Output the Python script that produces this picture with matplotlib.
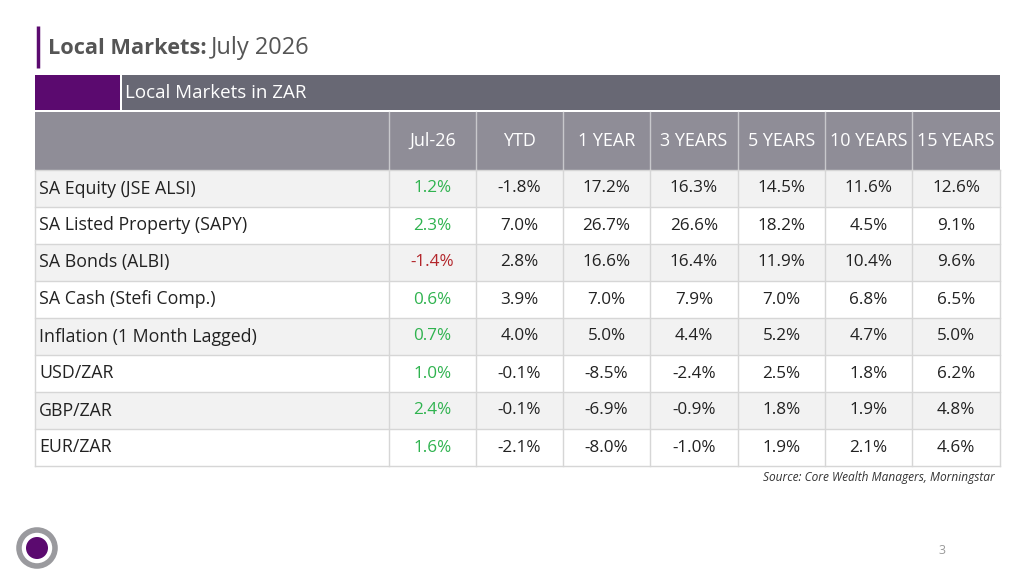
import matplotlib
matplotlib.use("Agg")

import matplotlib.pyplot as plt
from matplotlib.patches import Rectangle, Circle

plt.rcParams["font.family"] = ["Open Sans", "DejaVu Sans"]

TITLE_BOLD = "Local Markets:"
TITLE_REST = "July 2026"
BAND_LABEL = "Local Markets in ZAR"
SOURCE = "Source: Core Wealth Managers, Morningstar"
PAGE_NO = "3"

columns = ["Jul-26", "YTD", "1 YEAR", "3 YEARS", "5 YEARS", "10 YEARS", "15 YEARS"]
assets = [
    "SA Equity (JSE ALSI)",
    "SA Listed Property (SAPY)",
    "SA Bonds (ALBI)",
    "SA Cash (Stefi Comp.)",
    "Inflation (1 Month Lagged)",
    "USD/ZAR",
    "GBP/ZAR",
    "EUR/ZAR",
]
month_ret = [1.2, 2.3, -1.4, 0.6, 0.7, 1.0, 2.4, 1.6]
ytd = [-1.8, 7.0, 2.8, 3.9, 4.0, -0.1, -0.1, -2.1]
yr1 = [17.2, 26.7, 16.6, 7.0, 5.0, -8.5, -6.9, -8.0]
yr3 = [16.3, 26.6, 16.4, 7.9, 4.4, -2.4, -0.9, -1.0]
yr5 = [14.5, 18.2, 11.9, 7.0, 5.2, 2.5, 1.8, 1.9]
yr10 = [11.6, 4.5, 10.4, 6.8, 4.7, 1.8, 1.9, 2.1]
yr15 = [12.6, 9.1, 9.6, 6.5, 5.0, 6.2, 4.8, 4.6]

PURPLE = "#5b0a6f"
BAND = "#686874"
HEAD = "#8f8d97"
STRIPE = "#f2f2f2"
LINE = "#d6d6d6"
TEXT = "#222222"
GREEN = "#2fb34f"
RED = "#b3262b"

fig = plt.figure(figsize=(10.24, 5.76), dpi=100)
ax = fig.add_axes([0, 0, 1, 1])
ax.set_xlim(0, 1024)
ax.set_ylim(576, 0)
ax.axis("off")

# title
ax.plot([38, 38], [26, 68], color=PURPLE, lw=2.5, solid_capstyle="butt")
t = ax.text(48, 48, TITLE_BOLD, fontsize=15.7, fontweight="bold", color="#555555", va="center")
fig.canvas.draw()
bb = t.get_window_extent().transformed(ax.transData.inverted())
ax.text(bb.x1 + 4, 48, TITLE_REST, fontsize=17, color="#555555", va="center")

# table geometry
left, right = 35, 1000
col_edges = [35, 389, 476, 563, 650, 738, 825, 912, 1000]
band_top, band_bot = 75, 110
head_top, head_bot = 112, 170
row_h = 37

ax.add_patch(Rectangle((left, band_top), 85, band_bot - band_top, color=PURPLE, lw=0))
ax.add_patch(Rectangle((122, band_top), right - 122, band_bot - band_top, color=BAND, lw=0))
ax.text(125, (band_top + band_bot) / 2, BAND_LABEL, fontsize=13.5, color="white", va="center")

ax.add_patch(Rectangle((left, head_top), right - left, head_bot - head_top, color=HEAD, lw=0))
for x in col_edges[1:-1]:
    ax.plot([x, x], [head_top, head_bot], color="#c8c8cc", lw=1)
for i, name in enumerate(columns):
    cx = (col_edges[i + 1] + col_edges[i + 2]) / 2
    ax.text(cx, (head_top + head_bot) / 2, name, fontsize=13, color="white",
            ha="center", va="center")

series = [month_ret, ytd, yr1, yr3, yr5, yr10, yr15]
for r, asset in enumerate(assets):
    y0 = head_bot + r * row_h
    if r % 2 == 0:
        ax.add_patch(Rectangle((left, y0), right - left, row_h, color=STRIPE, lw=0))
    ax.plot([left, right], [y0 + row_h, y0 + row_h], color=LINE, lw=1)
    yc = y0 + row_h / 2
    ax.text(left + 4, yc, asset, fontsize=12.8, color=TEXT, va="center")
    for c, vals in enumerate(series):
        v = vals[r]
        cx = (col_edges[c + 1] + col_edges[c + 2]) / 2
        if c == 0:
            colour = GREEN if v >= 0 else RED
        else:
            colour = TEXT
        ax.text(cx, yc, f"{v:.1f}%", fontsize=12.3, color=colour, ha="center", va="center")

table_bot = head_bot + len(assets) * row_h
for x in col_edges:
    ax.plot([x, x], [head_bot, table_bot], color=LINE, lw=1)
ax.plot([left, right], [head_bot, head_bot], color=LINE, lw=1)

ax.text(995, 478, SOURCE, fontsize=8.6, style="italic", color="#333333", ha="right", va="center")

# logo and page number
ax.add_patch(Circle((37, 548), 18, facecolor="white", edgecolor="#9a9a9e", lw=4))
ax.add_patch(Circle((37, 548), 11, color=PURPLE, lw=0))
ax.text(942, 550, PAGE_NO, fontsize=9, color="#9a9a9a", ha="center", va="center")

fig.savefig("out.png", dpi=100)
